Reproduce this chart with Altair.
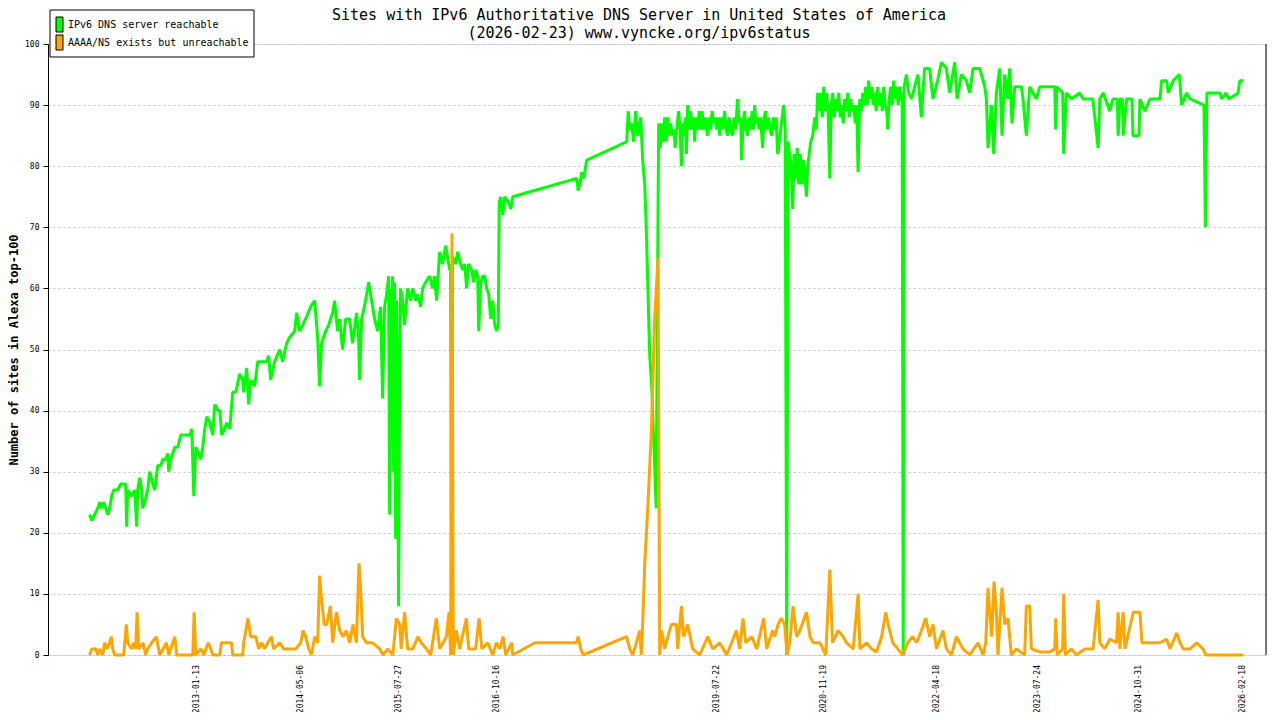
import numpy as np
import pandas as pd
import altair as alt

MONO = "DejaVu Sans Mono"

series_names = ["IPv6 DNS server reachable", "AAAA/NS exists but unreachable"]
series_colors = ["#00ff00", "#ffa500"]

# ---- x positions are read as decimal years ----
green_year_2011_2018 = [
    2011.698, 2011.723, 2011.760, 2011.798, 2011.823, 2011.848, 2011.873, 2011.898, 2011.923, 2011.948,
    2011.973, 2011.998, 2012.048, 2012.086, 2012.148, 2012.161, 2012.173, 2012.223, 2012.261, 2012.286,
    2012.298, 2012.323, 2012.348, 2012.361, 2012.386, 2012.423, 2012.448, 2012.486, 2012.511, 2012.548,
    2012.586, 2012.611, 2012.648, 2012.674, 2012.686, 2012.711, 2012.761, 2012.799, 2012.836, 2012.899,
    2012.949, 2012.974, 2012.999, 2013.024, 2013.061, 2013.086, 2013.111, 2013.136, 2013.161, 2013.199,
    2013.236, 2013.261, 2013.299, 2013.324, 2013.349, 2013.386, 2013.411, 2013.449, 2013.474, 2013.486,
    2013.524, 2013.574, 2013.611, 2013.624, 2013.661, 2013.686, 2013.711, 2013.761, 2013.799, 2013.861,
    2013.911, 2013.936, 2013.961, 2014.011, 2014.074, 2014.111, 2014.161, 2014.199, 2014.262, 2014.287,
    2014.324, 2014.362, 2014.399, 2014.462, 2014.512, 2014.549, 2014.574, 2014.599, 2014.649, 2014.687,
    2014.737, 2014.762, 2014.799, 2014.824, 2014.862, 2014.900, 2014.950, 2014.987, 2015.037, 2015.062,
    2015.075, 2015.100, 2015.150, 2015.188, 2015.225, 2015.263, 2015.300, 2015.338, 2015.363, 2015.388,
    2015.413, 2015.438, 2015.451, 2015.463, 2015.476, 2015.488, 2015.501, 2015.513, 2015.526, 2015.538,
    2015.551, 2015.563, 2015.576, 2015.588, 2015.613, 2015.638, 2015.676, 2015.714, 2015.739, 2015.776,
    2015.801, 2015.839, 2015.864, 2015.901, 2015.951, 2015.989, 2016.014, 2016.039, 2016.077, 2016.114,
    2016.152, 2016.177, 2016.202, 2016.214, 2016.226, 2016.239, 2016.252, 2016.277, 2016.302, 2016.339,
    2016.364, 2016.389, 2016.414, 2016.439, 2016.477, 2016.502, 2016.527, 2016.552, 2016.565, 2016.590,
    2016.615, 2016.640, 2016.665, 2016.690, 2016.715, 2016.740, 2016.765, 2016.790, 2016.809, 2016.821,
    2016.840, 2016.865, 2016.890, 2016.940, 2016.965, 2016.990, 2017.791, 2017.808, 2017.829, 2017.854,
    2017.879, 2017.916, 2018.417, 2018.436, 2018.454, 2018.479, 2018.504, 2018.529, 2018.554, 2018.592,
    2018.617, 2018.642, 2018.661, 2018.680, 2018.705, 2018.730, 2018.749, 2018.767, 2018.786, 2018.805,
]
green_sites_2011_2018 = [
    23, 22, 23, 24, 25, 24, 25, 24, 23, 24,
    26, 27, 27, 28, 28, 21, 27, 26, 27, 21,
    27, 29, 27, 24, 25, 27, 30, 28, 27, 31,
    31, 32, 32, 33, 30, 32, 34, 34, 36, 36,
    36, 37, 26, 34, 33, 32, 34, 37, 39, 38,
    36, 41, 40, 40, 36, 37, 38, 37, 41, 43,
    43, 46, 45, 43, 47, 41, 45, 44, 48, 48,
    48, 49, 45, 48, 50, 48, 51, 52, 53, 56,
    53, 54, 55, 57, 58, 52, 44, 51, 53, 54,
    56, 58, 53, 55, 50, 55, 55, 51, 56, 52,
    45, 55, 58, 61, 58, 55, 53, 57, 42, 57,
    59, 62, 23, 60, 35, 62, 30, 61, 19, 58,
    38, 8, 45, 60, 58, 54, 60, 58, 60, 58,
    59, 57, 60, 61, 62, 60, 62, 58, 66, 64,
    67, 65, 63, 64, 0, 65, 65, 64, 66, 64,
    63, 64, 60, 64, 63, 61, 63, 62, 53, 61,
    62, 62, 60, 59, 55, 58, 54, 53, 54, 74,
    75, 72, 75, 74, 73, 75, 78, 76, 77, 79,
    78, 81, 84, 89, 86, 87, 84, 89, 85, 88,
    81, 77, 70, 61, 49, 44, 37, 31, 24, 65,
]
green_year_2018_2021 = [
    2018.817, 2018.836, 2018.855, 2018.873, 2018.892, 2018.911, 2018.930, 2018.948, 2018.967, 2018.986,
    2019.005, 2019.023, 2019.042, 2019.067, 2019.086, 2019.101, 2019.117, 2019.136, 2019.155, 2019.164,
    2019.180, 2019.199, 2019.217, 2019.236, 2019.255, 2019.267, 2019.286, 2019.305, 2019.324, 2019.343,
    2019.361, 2019.380, 2019.399, 2019.418, 2019.430, 2019.449, 2019.468, 2019.486, 2019.505, 2019.524,
    2019.543, 2019.562, 2019.580, 2019.599, 2019.618, 2019.643, 2019.662, 2019.680, 2019.699, 2019.718,
    2019.743, 2019.762, 2019.780, 2019.805, 2019.824, 2019.843, 2019.856, 2019.874, 2019.893, 2019.912,
    2019.931, 2019.949, 2019.968, 2019.987, 2020.006, 2020.018, 2020.037, 2020.056, 2020.075, 2020.093,
    2020.118, 2020.137, 2020.156, 2020.175, 2020.193, 2020.212, 2020.231, 2020.250, 2020.268, 2020.287,
    2020.306, 2020.325, 2020.344, 2020.362, 2020.381, 2020.400, 2020.419, 2020.437, 2020.456, 2020.475,
    2020.494, 2020.512, 2020.531, 2020.550, 2020.569, 2020.588, 2020.606, 2020.625, 2020.644, 2020.665,
    2020.681, 2020.700, 2020.719, 2020.744, 2020.769, 2020.788, 2020.806, 2020.825, 2020.844, 2020.863,
    2020.882, 2020.900, 2020.919, 2020.938, 2020.957, 2020.975, 2020.994, 2021.013, 2021.032, 2021.050,
    2021.069, 2021.088, 2021.107, 2021.125, 2021.144, 2021.163, 2021.182, 2021.200, 2021.219, 2021.238,
    2021.257, 2021.276, 2021.294, 2021.311, 2021.332, 2021.351, 2021.369, 2021.388, 2021.407, 2021.426,
    2021.444, 2021.463, 2021.482, 2021.501, 2021.519, 2021.538, 2021.557, 2021.576, 2021.595, 2021.613,
    2021.632, 2021.651, 2021.670, 2021.682, 2021.701, 2021.720, 2021.738, 2021.757, 2021.776, 2021.795,
    2021.813, 2021.832, 2021.851, 2021.863, 2021.876, 2021.888,
]
green_sites_2018_2021 = [
    87, 83, 87, 84, 88, 84, 88, 85, 87, 85,
    86, 83, 86, 89, 86, 80, 87, 85, 88, 82,
    90, 86, 89, 86, 88, 84, 88, 86, 89, 86,
    89, 86, 88, 86, 85, 88, 86, 89, 87, 88,
    86, 88, 85, 88, 86, 89, 86, 85, 88, 86,
    85, 88, 86, 91, 87, 88, 81, 87, 89, 86,
    85, 88, 86, 89, 86, 90, 87, 88, 86, 88,
    83, 88, 89, 86, 88, 86, 85, 88, 86, 88,
    82, 84, 86, 88, 90, 86, 0, 84, 82, 80,
    73, 82, 78, 83, 77, 82, 77, 81, 79, 75,
    80, 82, 84, 85, 88, 86, 92, 89, 92, 88,
    93, 89, 92, 88, 78, 90, 92, 88, 91, 89,
    92, 88, 90, 87, 91, 89, 92, 88, 91, 89,
    90, 87, 90, 79, 91, 89, 92, 90, 93, 90,
    94, 91, 93, 90, 92, 89, 93, 90, 92, 89,
    93, 90, 89, 86, 91, 93, 90, 94, 91, 93,
    90, 93, 91, 92, 0, 93,
]
green_year_2022_2026 = [
    2021.916, 2021.945, 2021.982, 2022.019, 2022.061, 2022.103, 2022.144, 2022.207, 2022.249, 2022.308,
    2022.354, 2022.417, 2022.458, 2022.521, 2022.550, 2022.605, 2022.667, 2022.709, 2022.750, 2022.834,
    2022.897, 2022.918, 2022.938, 2022.959, 2022.980, 2023.009, 2023.043, 2023.084, 2023.113, 2023.147,
    2023.188, 2023.209, 2023.238, 2023.272, 2023.356, 2023.376, 2023.418, 2023.460, 2023.544, 2023.585,
    2023.773, 2023.786, 2023.798, 2023.873, 2023.886, 2023.919, 2023.982, 2024.086, 2024.128, 2024.249,
    2024.316, 2024.337, 2024.378, 2024.462, 2024.500, 2024.556, 2024.566, 2024.588, 2024.619, 2024.629,
    2024.672, 2024.738, 2024.751, 2024.826, 2024.838, 2024.901, 2024.963, 2025.088, 2025.109, 2025.172,
    2025.192, 2025.255, 2025.330, 2025.360, 2025.422, 2025.464, 2025.639, 2025.657, 2025.676, 2025.838,
    2025.863, 2025.913, 2025.951, 2026.067, 2026.088, 2026.130,
]
green_sites_2022_2026 = [
    95, 92, 91, 93, 95, 88, 96, 96, 91, 94,
    97, 96, 92, 97, 91, 95, 94, 92, 96, 96,
    93, 91, 83, 86, 90, 82, 92, 96, 85, 95,
    91, 96, 87, 93, 93, 91, 85, 93, 91, 93,
    93, 86, 93, 92, 82, 92, 91, 92, 91, 91,
    83, 91, 92, 89, 91, 91, 85, 91, 91, 85,
    91, 91, 85, 85, 91, 89, 91, 91, 94, 94,
    92, 94, 95, 90, 92, 91, 90, 70, 92, 92,
    91, 92, 91, 92, 94, 94,
]

orange_year = [
    2011.698, 2011.723, 2011.773, 2011.798, 2011.823, 2011.861, 2011.886, 2011.923, 2011.969, 2011.986,
    2012.011, 2012.123, 2012.157, 2012.173, 2012.223, 2012.248, 2012.273, 2012.290, 2012.311, 2012.365,
    2012.398, 2012.423, 2012.473, 2012.532, 2012.574, 2012.657, 2012.686, 2012.761, 2012.786, 2012.986,
    2013.003, 2013.024, 2013.086, 2013.124, 2013.178, 2013.211, 2013.236, 2013.324, 2013.346, 2013.471,
    2013.486, 2013.611, 2013.624, 2013.678, 2013.711, 2013.774, 2013.811, 2013.849, 2013.886, 2013.924,
    2013.971, 2013.999, 2014.074, 2014.124, 2014.199, 2014.275, 2014.338, 2014.367, 2014.400, 2014.438,
    2014.472, 2014.513, 2014.550, 2014.574, 2014.599, 2014.632, 2014.663, 2014.709, 2014.738, 2014.785,
    2014.826, 2014.867, 2014.910, 2014.951, 2014.992, 2015.035, 2015.067, 2015.088, 2015.113, 2015.160,
    2015.239, 2015.326, 2015.368, 2015.427, 2015.490, 2015.536, 2015.577, 2015.596, 2015.639, 2015.676,
    2015.739, 2015.806, 2015.848, 2015.911, 2015.965, 2016.036, 2016.077, 2016.161, 2016.194, 2016.214,
    2016.231, 2016.248, 2016.286, 2016.327, 2016.411, 2016.440, 2016.527, 2016.569, 2016.603, 2016.678,
    2016.740, 2016.786, 2016.828, 2016.869, 2016.903, 2016.974, 2016.990, 2017.266, 2017.787, 2017.808,
    2017.842, 2017.870, 2018.414, 2018.455, 2018.492, 2018.538, 2018.580, 2018.599, 2018.622, 2018.643,
    2018.684, 2018.727, 2018.747, 2018.767, 2018.809, 2018.830, 2018.855, 2018.892, 2018.976, 2019.039,
    2019.055, 2019.101, 2019.130, 2019.180, 2019.243, 2019.331, 2019.431, 2019.493, 2019.581, 2019.669,
    2019.790, 2019.831, 2019.873, 2019.907, 2019.982, 2020.044, 2020.132, 2020.169, 2020.244, 2020.269,
    2020.311, 2020.353, 2020.394, 2020.423, 2020.457, 2020.499, 2020.542, 2020.583, 2020.667, 2020.709,
    2020.751, 2020.834, 2020.907, 2020.957, 2020.991, 2021.061, 2021.124, 2021.166, 2021.250, 2021.312,
    2021.334, 2021.417, 2021.480, 2021.542, 2021.605, 2021.658, 2021.687, 2021.746, 2021.807, 2021.870,
    2021.932, 2021.995, 2022.045, 2022.104, 2022.158, 2022.208, 2022.249, 2022.292, 2022.375, 2022.417,
    2022.480, 2022.542, 2022.625, 2022.709, 2022.813, 2022.876, 2022.910, 2022.938, 2022.959, 2022.985,
    2023.013, 2023.043, 2023.063, 2023.113, 2023.147, 2023.188, 2023.230, 2023.293, 2023.397, 2023.418,
    2023.460, 2023.481, 2023.585, 2023.711, 2023.773, 2023.786, 2023.804, 2023.873, 2023.886, 2023.907,
    2023.982, 2024.045, 2024.149, 2024.253, 2024.316, 2024.337, 2024.399, 2024.462, 2024.545, 2024.566,
    2024.588, 2024.629, 2024.650, 2024.755, 2024.838, 2024.863, 2024.901, 2025.005, 2025.088, 2025.172,
    2025.213, 2025.297, 2025.339, 2025.380, 2025.464, 2025.548, 2025.627, 2025.664, 2026.130,
]
orange_sites = [
    0, 1, 1, 0, 1, 0, 2, 1, 3, 1,
    0, 0, 5, 2, 1, 2, 1, 7, 1, 2,
    0, 1, 2, 3, 0, 2, 0, 3, 0, 0,
    7, 0, 1, 0, 2, 1, 0, 0, 2, 2,
    0, 0, 2, 6, 3, 3, 1, 2, 1, 2,
    3, 1, 2, 1, 1, 1, 2, 4, 3, 1,
    0, 3, 2, 13, 9, 5, 5, 8, 2, 7,
    4, 3, 4, 2, 5, 2, 15, 11, 3, 2,
    2, 1, 0, 1, 0, 6, 5, 1, 7, 1,
    1, 3, 2, 1, 0, 6, 1, 3, 7, 0,
    69, 0, 4, 1, 6, 1, 1, 6, 1, 2,
    0, 2, 1, 3, 0, 2, 0, 2, 2, 3,
    1, 0, 3, 1, 0, 2, 4, 0, 7, 15,
    25, 37, 46, 55, 65, 0, 4, 1, 5, 5,
    1, 8, 3, 5, 1, 0, 3, 1, 2, 0,
    4, 1, 6, 2, 3, 1, 6, 1, 4, 3,
    5, 6, 5, 0, 2, 8, 3, 4, 7, 3,
    2, 2, 0, 14, 2, 4, 3, 2, 1, 10,
    1, 2, 1, 0.5, 3, 7, 5, 2, 1, 0,
    2, 3, 2, 4, 6, 3, 5, 1, 4, 1,
    0, 3, 1, 0, 2, 0, 2, 11, 7, 3,
    12, 7, 0, 11, 5, 6, 0, 1, 0, 8,
    8, 1, 0.5, 0.5, 1, 6, 0, 1, 10, 0,
    1, 0, 1, 1, 9, 2, 1, 2.6, 2, 7,
    1, 7, 1, 7, 7, 2, 2, 2, 2, 2.6,
    1, 3.6, 2, 1, 1, 2, 1, 0, 0,
]

date_labels = ["2013-01-13", "2014-05-06", "2015-07-27", "2016-10-16", "2019-07-22",
               "2020-11-19", "2022-04-18", "2023-07-24", "2024-10-31", "2026-02-18"]
y_ticks = list(range(0, 101, 10))
x_start_year = 2011.176
x_end_year = 2026.416
n_x_intervals = 25


def year_to_ms(y):
    yi = int(np.floor(y))
    a = pd.Timestamp(year=yi, month=1, day=1)
    b = pd.Timestamp(year=yi + 1, month=1, day=1)
    ts = a + (b - a) * (y - yi)
    return int(ts.value // 10**6)


green_year = green_year_2011_2018 + green_year_2018_2021 + green_year_2022_2026
green_sites = green_sites_2011_2018 + green_sites_2018_2021 + green_sites_2022_2026

df = pd.concat([
    pd.DataFrame({"t": [year_to_ms(y) for y in green_year], "v": green_sites, "series": series_names[0]}),
    pd.DataFrame({"t": [year_to_ms(y) for y in orange_year], "v": orange_sites, "series": series_names[1]}),
], ignore_index=True)

ms0 = year_to_ms(x_start_year)
ms1 = year_to_ms(x_end_year)
tick_ms = [int(ms0 + k * (ms1 - ms0) / n_x_intervals) for k in range(n_x_intervals + 1)]
lbl_df = pd.DataFrame({"t": [int(pd.Timestamp(d).value // 10**6) for d in date_labels], "label": date_labels})

W, H = 1218, 611
xscale = alt.Scale(domain=[ms0, ms1], type="utc")

xenc = alt.X("t:T", scale=xscale,
             axis=alt.Axis(values=tick_ms, labels=False, title=None, grid=True,
                           gridDash=[2, 3], gridColor="#c0c0c0", gridWidth=1,
                           tickSize=5, tickColor="black", domainColor="black", domainWidth=1))
yenc = alt.Y("v:Q", scale=alt.Scale(domain=[0, 100], nice=False),
             axis=alt.Axis(values=y_ticks, title="Number of sites in Alexa top-100",
                           grid=True, gridDash=[2, 3], gridColor="#c0c0c0", gridWidth=1,
                           tickSize=5, tickColor="black", domainColor="black", domainWidth=1,
                           labelFont=MONO, labelFontSize=8, labelColor="black", labelPadding=4,
                           titleFont=MONO, titleFontSize=12, titleFontWeight="bold", titleColor="black",
                           titleX=-35, titleY=H / 2, titleAngle=270, titleAlign="center",
                           titleBaseline="middle"))
color_scale = alt.Scale(domain=series_names, range=series_colors)

green = alt.Chart(df).transform_filter(alt.datum.series == series_names[0]).mark_line(
    strokeWidth=3, strokeJoin="bevel").encode(
    x=xenc, y=yenc, stroke=alt.Stroke("series:N", scale=color_scale, legend=None))
orange = alt.Chart(df).transform_filter(alt.datum.series == series_names[1]).mark_line(
    strokeWidth=3, strokeJoin="bevel").encode(
    x=xenc, y=yenc, stroke=alt.Stroke("series:N", scale=color_scale, legend=None))

border = alt.Chart(pd.DataFrame({"t": [ms1]})).mark_rule(color="black", strokeWidth=1).encode(
    x=alt.X("t:T", scale=xscale, axis=None),
    y=alt.value(0), y2=alt.value(H))

labels = alt.Chart(lbl_df).mark_text(angle=270, align="right", baseline="middle", font=MONO,
                                     fontSize=8, color="black").encode(
    x=alt.X("t:T", scale=xscale, axis=None),
    y=alt.value(H + 10), text="label:N")

# ---- legend box (drawn by hand, top-left, overlapping the title band) ----
legend_df = pd.DataFrame({"series": series_names})
legend_box = alt.Chart(pd.DataFrame({"k": [0]})).mark_rect(
    fill="white", stroke="black", strokeWidth=1).encode(
    x=alt.value(2), x2=alt.value(206), y=alt.value(-34), y2=alt.value(13))
legend_layers = [legend_box]
for i, name in enumerate(series_names):
    sw = alt.Chart(legend_df).transform_filter(alt.datum.series == name).mark_rect(
        stroke="black", strokeWidth=1).encode(
        x=alt.value(8), x2=alt.value(15),
        y=alt.value(-27 + 18 * i), y2=alt.value(-12 + 18 * i),
        fill=alt.Fill("series:N", scale=color_scale, legend=None))
    tx = alt.Chart(legend_df).transform_filter(alt.datum.series == name).mark_text(
        align="left", baseline="middle", font=MONO, fontSize=10, color="black").encode(
        x=alt.value(20), y=alt.value(-19 + 18 * i), text="series:N")
    legend_layers += [sw, tx]

chart = alt.layer(green, orange, border, labels, *legend_layers).properties(
    width=W, height=H,
    title=alt.TitleParams(
        text="Sites with IPv6 Authoritative DNS Server in United States of America",
        subtitle="(2026-02-23) www.vyncke.org/ipv6status",
        font=MONO, fontSize=15, fontWeight="normal", color="black",
        subtitleFont=MONO, subtitleFontSize=15, subtitleColor="black", subtitlePadding=3,
        anchor="middle", frame="group", dx=-18, dy=34, offset=3),
    autosize=alt.AutoSizeParams(type="none"),
    padding={"left": 40, "top": 36, "right": 6, "bottom": 57},
).configure_view(stroke=None).configure(background="white")

chart.save("out.html", embed_options={"renderer": "svg", "actions": False})
